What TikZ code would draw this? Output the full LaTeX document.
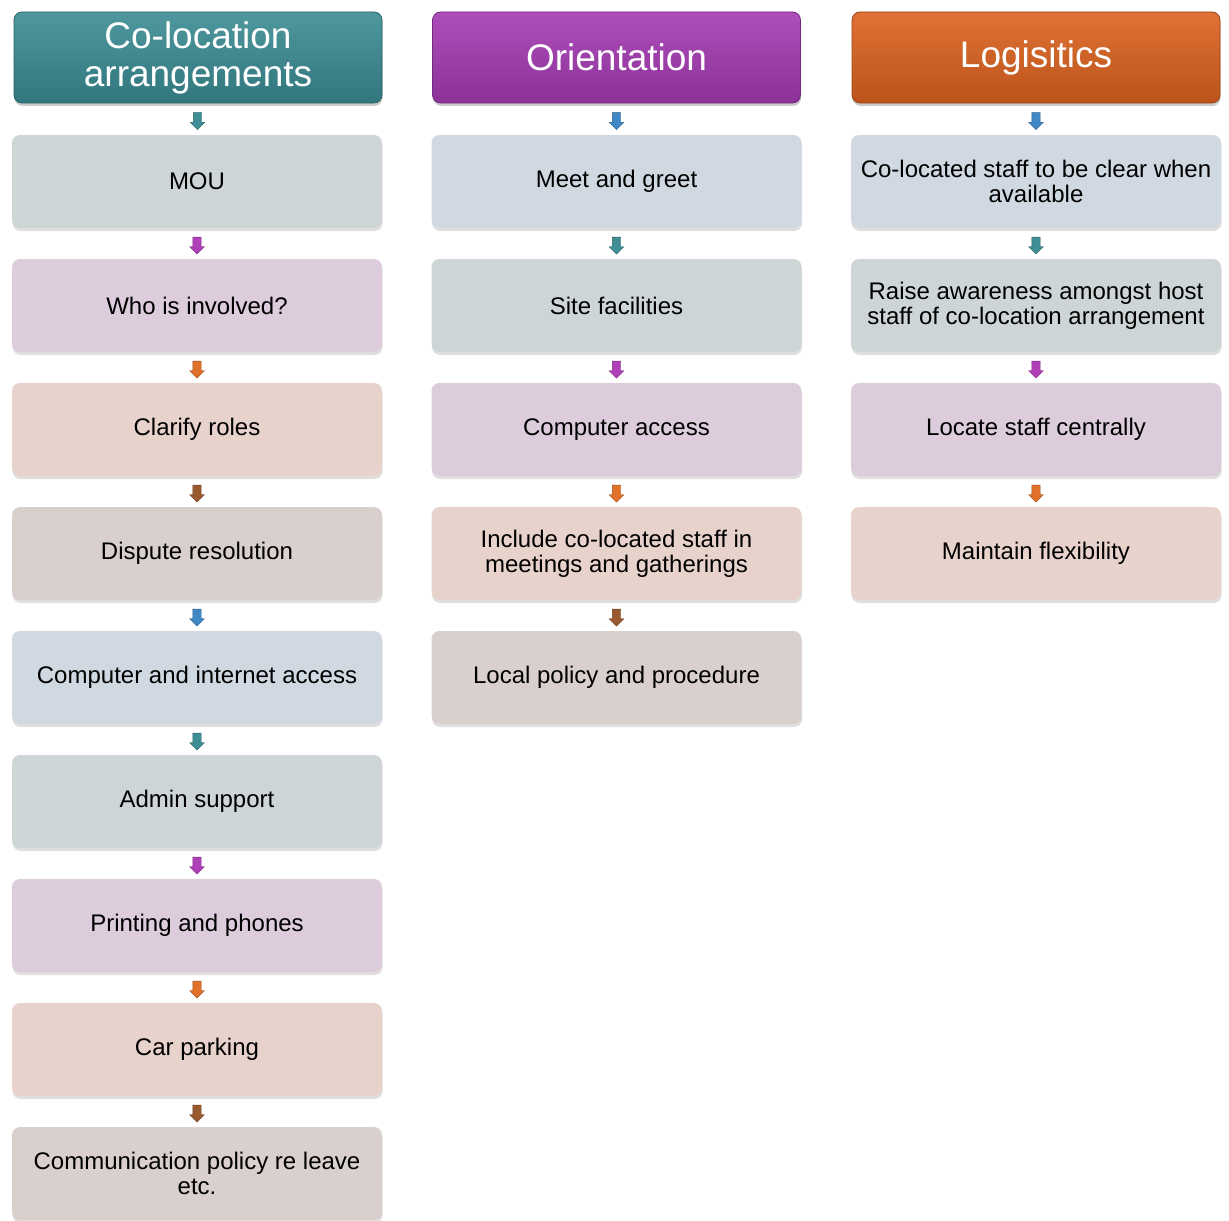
\documentclass[tikz,border=0pt]{standalone}
\usepackage{fontspec}
\setmainfont{Liberation Sans}
\usetikzlibrary{shapes.arrows,shadows}

\definecolor{hdteal}{HTML}{3A8C93}
\definecolor{hdpurple}{HTML}{A53AB3}
\definecolor{hdorange}{HTML}{DC621F}
\definecolor{bxteal}{HTML}{CDD5D6}
\definecolor{bxpurple}{HTML}{DDCCDC}
\definecolor{bxpeach}{HTML}{E8D3CC}
\definecolor{bxbrown}{HTML}{D9D0CE}
\definecolor{bxblue}{HTML}{D0D9E2}
\definecolor{arteal}{HTML}{3F8E95}
\definecolor{arpurple}{HTML}{B040B8}
\definecolor{arorange}{HTML}{E0702A}
\definecolor{arbrown}{HTML}{9A5A30}
\definecolor{arblue}{HTML}{3F88C5}

\begin{document}
\begin{tikzpicture}[
  header/.style={rounded corners=4pt, minimum width=184pt, minimum height=45.5pt,
    align=center, text=white, font=\fontsize{18.5}{19}\selectfont,
    draw=#1!70!black, top color=#1!90!white, bottom color=#1!85!black,
    drop shadow={opacity=0.4,shadow xshift=0.3pt,shadow yshift=-1.5pt}},
  box/.style={rounded corners=4pt, minimum width=185pt, minimum height=46.5pt,
    align=center, fill=#1, font=\fontsize{12}{12.5}\selectfont,
    drop shadow={opacity=0.25,shadow xshift=0.3pt,shadow yshift=-1.5pt}},
  downarr/.style={single arrow, rotate=-90, fill=#1, draw=#1!70!black,
    line width=0.2pt, minimum height=8.5pt, inner sep=2pt,
    single arrow head extend=1.6pt}
]
\useasboundingbox (0,0) rectangle (614.5pt,-610pt);

% headers
\node[header=hdteal] (colo0) at (99pt,-28.75pt) {Co-location\\arrangements};
\node[header=hdpurple] (orient0) at (308.25pt,-28.75pt) {Orientation};
\node[header=hdorange] (logi0) at (518pt,-28.75pt) {Logisitics};

% column 1
\foreach \i/\txt/\fc/\ac [evaluate=\i as \j using int(\i-1)] in {
  1/{MOU}/bxteal/arteal,
  2/{Who is involved?}/bxpurple/arpurple,
  3/{Clarify roles}/bxpeach/arorange,
  4/{Dispute resolution}/bxbrown/arbrown,
  5/{Computer and internet access}/bxblue/arblue,
  6/{Admin support}/bxteal/arteal,
  7/{Printing and phones}/bxpurple/arpurple,
  8/{Car parking}/bxpeach/arorange,
  9/{Communication policy re leave\\etc.}/bxbrown/arbrown}
{
  \node[box=\fc] (colo\i) at (98.5pt,{-(90.75+62*(\i-1))*1pt}) {\txt};
  \path (colo\j.south) -- (colo\i.north) node[midway,downarr=\ac] {};
}

% column 2
\foreach \i/\txt/\fc/\ac [evaluate=\i as \j using int(\i-1)] in {
  1/{Meet and greet}/bxblue/arblue,
  2/{Site facilities}/bxteal/arteal,
  3/{Computer access}/bxpurple/arpurple,
  4/{Include co-located staff in\\meetings and gatherings}/bxpeach/arorange,
  5/{Local policy and procedure}/bxbrown/arbrown}
{
  \node[box=\fc] (orient\i) at (308.25pt,{-(90.75+62*(\i-1))*1pt}) {\txt};
  \path (orient\j.south) -- (orient\i.north) node[midway,downarr=\ac] {};
}

% column 3
\foreach \i/\txt/\fc/\ac [evaluate=\i as \j using int(\i-1)] in {
  1/{Co-located staff to be clear when\\available}/bxblue/arblue,
  2/{Raise awareness amongst host\\staff of co-location arrangement}/bxteal/arteal,
  3/{Locate staff centrally}/bxpurple/arpurple,
  4/{Maintain flexibility}/bxpeach/arorange}
{
  \node[box=\fc] (logi\i) at (518pt,{-(90.75+62*(\i-1))*1pt}) {\txt};
  \path (logi\j.south) -- (logi\i.north) node[midway,downarr=\ac] {};
}
\end{tikzpicture}
\end{document}
